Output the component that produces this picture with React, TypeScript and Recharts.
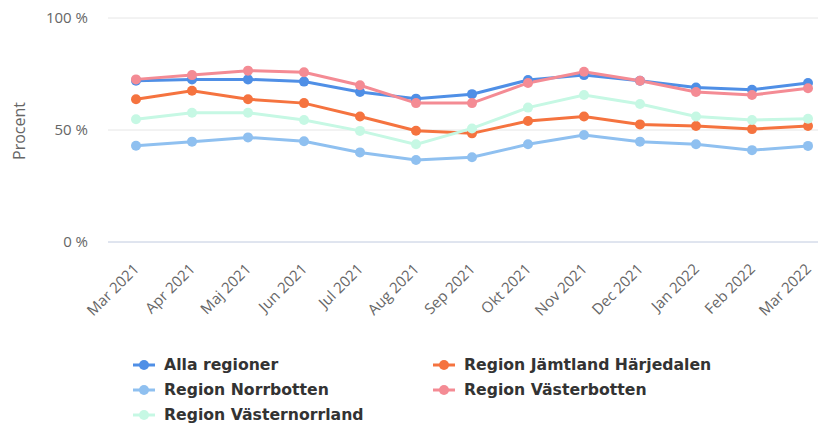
import React from "react";
import { LineChart, Line, XAxis, YAxis, CartesianGrid, Legend, Label } from "recharts";

const months = ["Mar 2021", "Apr 2021", "Maj 2021", "Jun 2021", "Jul 2021", "Aug 2021", "Sep 2021", "Okt 2021", "Nov 2021", "Dec 2021", "Jan 2022", "Feb 2022", "Mar 2022"];
const alla = [72, 72.6, 72.6, 71.6, 67, 64, 66, 72.3, 74.5, 72, 69, 68, 71];
const jamtland = [63.7, 67.5, 63.7, 62, 56, 49.7, 48.5, 54, 56, 52.5, 51.8, 50.4, 51.8];
const norrbotten = [43, 44.8, 46.7, 45, 40, 36.6, 37.8, 43.6, 47.8, 44.8, 43.6, 41, 42.9];
const vasterbotten = [72.6, 74.5, 76.5, 75.8, 70, 62, 62, 71, 76, 72, 67, 65.6, 68.6];
const vasternorrland = [54.8, 57.7, 57.7, 54.5, 49.6, 43.6, 50.7, 60, 65.6, 61.6, 56, 54.5, 55];
const yTicks = [0, 50, 100];

const series = [
  { key: "alla", name: "Alla regioner", color: "#4f8fe6", values: alla },
  { key: "jamtland", name: "Region Jämtland Härjedalen", color: "#f5733f", values: jamtland },
  { key: "norrbotten", name: "Region Norrbotten", color: "#8fc0f0", values: norrbotten },
  { key: "vasterbotten", name: "Region Västerbotten", color: "#f48b94", values: vasterbotten },
  { key: "vasternorrland", name: "Region Västernorrland", color: "#c6f8e4", values: vasternorrland },
];

const data = months.map((m, i) => {
  const row: any = { month: m };
  series.forEach((s) => (row[s.key] = s.values[i]));
  return row;
});

const tickFont = "'Open Sans', sans-serif";

const XTick = (props: any) => {
  const { x, y, payload } = props;
  const tx = x + 4;
  const ty = y + 26;
  return (
    <text x={tx} y={ty} transform={`rotate(-45 ${tx} ${ty})`} textAnchor="end" fill="#666666" fontSize={15} fontFamily={tickFont}>
      {payload.value}
    </text>
  );
};

const LegendContent = () => (
  <div style={{ display: "flex", flexWrap: "wrap", width: 600, fontFamily: "'DejaVu Sans', sans-serif", fontWeight: "bold", fontSize: 15.7, color: "#333333" }}>
    {series.map((s) => (
      <div key={s.key} style={{ width: 300, height: 25, display: "flex", alignItems: "center" }}>
        <svg width={22} height={12} style={{ marginRight: 9, flex: "none" }}>
          <line x1={0} y1={6} x2={22} y2={6} stroke={s.color} strokeWidth={3} />
          <circle cx={11} cy={6} r={5} fill={s.color} />
        </svg>
        <span style={{ whiteSpace: "nowrap" }}>{s.name}</span>
      </div>
    ))}
  </div>
);

export default function App() {
  return (
    <div style={{ width: 818, height: 415, overflow: "hidden", position: "relative" }}>
      <LineChart width={830} height={415} data={data} margin={{ top: 10, right: 2, left: 0, bottom: 0 }}>
        <CartesianGrid vertical={false} stroke="#e6e6e6" />
        <XAxis
          dataKey="month"
          height={181}
          interval={0}
          padding={{ left: 28, right: 28 }}
          tickLine={false}
          tickSize={0}
          axisLine={{ stroke: "#ccd6eb" }}
          tick={<XTick />}
        />
        <YAxis
          width={100}
          domain={[0, 100]}
          ticks={yTicks}
          tickFormatter={(v: number) => `${v} %`}
          axisLine={false}
          tickLine={false}
          tickSize={0}
          tickMargin={20}
          tick={{ fill: "#666666", fontSize: 15, fontFamily: tickFont }}
        >
          <Label
            content={() => (
              <text x={11} y={123} transform="rotate(-90 11 123)" textAnchor="middle" dominantBaseline="central" fill="#666666" fontSize={16} fontFamily={tickFont}>
                Procent
              </text>
            )}
          />
        </YAxis>
        {series.map((s) => (
          <Line
            key={s.key}
            dataKey={s.key}
            name={s.name}
            stroke={s.color}
            strokeWidth={3}
            dot={{ r: 5, fill: s.color, stroke: "none" }}
            activeDot={false}
            isAnimationActive={false}
          />
        ))}
        <Legend
          layout="horizontal"
          verticalAlign="middle"
          align="center"
          content={<LegendContent />}
          wrapperStyle={{ top: 344, left: 125, width: 600 }}
        />
      </LineChart>
    </div>
  );
}
